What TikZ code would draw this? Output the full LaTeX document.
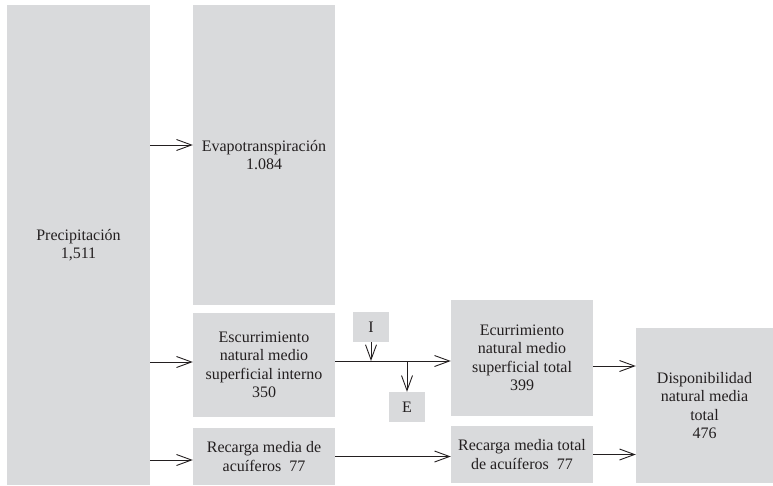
\documentclass[tikz,border=0pt]{standalone}
\usepackage{fontspec}
\setmainfont{Liberation Serif}
\usetikzlibrary{arrows.meta,calc}
\definecolor{boxgrey}{RGB}{217,218,220}
\definecolor{ink}{RGB}{35,31,32}
\begin{document}
\begin{tikzpicture}[x=1pt,y=-1pt,
  box/.style={fill=boxgrey,draw=none,inner sep=0pt,align=center,text=ink,
    font=\fontsize{16}{18.5}\selectfont},
  arr/.style={draw=ink,line width=0.9pt,-{Straight Barb[length=15pt,width=11pt,line width=0.9pt]}}]
\useasboundingbox (0,0) rectangle (773,485);
\node[box,minimum width=143pt,minimum height=480pt] (prec) at (78.5,245) {Precipitación\\1,511};
\node[box,minimum width=142pt,minimum height=300pt] (evap) at (264,155) {Evapotranspiración\\1.084};
\node[box,minimum width=142pt,minimum height=104pt] (escu) at (264,365) {Escurrimiento\\natural medio\\superficial interno\\350};
\node[box,minimum width=142pt,minimum height=57pt] (rec) at (264,456.5) {Recarga media de\\acuíferos\enspace 77};
\node[box,minimum width=36pt,minimum height=30pt] (I) at (371,327) {I};
\node[box,minimum width=36pt,minimum height=30pt] (E) at (407,407) {E};
\node[box,minimum width=142pt,minimum height=116pt] (ecut) at (522,358) {Ecurrimiento\\natural medio\\superficial total\\399};
\node[box,minimum width=142pt,minimum height=57pt] (rect) at (522,454.5) {Recarga media total\\de acuíferos\enspace 77};
\node[box,minimum width=137pt,minimum height=155pt] (disp) at (704.5,405.5) {Disponibilidad\\natural media\\total\\476};
% arrows
\coordinate (pe) at ($(evap.west)+(0,-10)$);
\draw[arr] (prec.east |- pe) -- (pe);
\coordinate (ps) at ($(escu.west)+(0,-3)$);
\draw[arr] (prec.east |- ps) -- (ps);
\coordinate (pr) at ($(rec.west)+(0,3.5)$);
\draw[arr] (prec.east |- pr) -- (pr);
\coordinate (et) at ($(ecut.west)+(0,3)$);
\draw[arr] (escu.east |- et) -- (et);
\coordinate (ij) at (I.south |- et);
\draw[arr] (I.south) -- (ij);
\coordinate (ej) at (E.north |- et);
\draw[arr] (ej) -- (E.north);
\draw[arr] (rec.east) -- (rect.west |- rec.east);
\coordinate (dt) at ($(ecut.east)+(0,8)$);
\draw[arr] (dt) -- (disp.west |- dt);
\draw[arr] (rect.east) -- (disp.west |- rect.east);
\end{tikzpicture}
\end{document}
